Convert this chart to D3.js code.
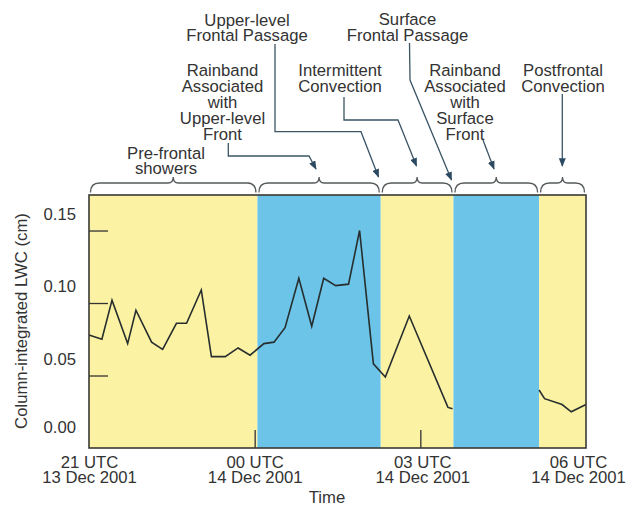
<!DOCTYPE html>
<html>
<head>
<meta charset="utf-8">
<script src="https://cdn.jsdelivr.net/npm/d3@7"></script>
<style>
  body { margin: 0; background: #fff; }
  text { font-family: "Liberation Sans", Arial, sans-serif; fill: #333; }
</style>
</head>
<body>
<script>
// LWC samples (UTC time, cm); null marks the gap with no retrieval
var lwcTimes = ["21:00", "21:14", "21:25", "21:42", "21:51", "22:08", "22:20", "22:35", "22:46", "23:02",
    "23:13", "23:28", "23:42", "23:55", "00:10", "00:21", "00:33", "00:48", "01:02", "01:15",
    "01:28", "01:42", "01:54", "02:09", "02:22", "02:48", "03:30", "03:35",
    "04:20",
    "05:09", "05:15", "05:34", "05:44", "06:00"];
var lwcValues = [0.078, 0.075, 0.102, 0.072, 0.095, 0.073, 0.068, 0.086, 0.086, 0.109,
    0.063, 0.063, 0.069, 0.064, 0.072, 0.073, 0.083, 0.117, 0.084, 0.117,
    0.112, 0.113, 0.150, 0.058, 0.049, 0.091, 0.028, 0.027,
    null,
    0.040, 0.034, 0.030, 0.025, 0.030];

// shaded periods
var bandStarts = ["21:00", "00:03", "02:17", "03:36", "05:09"];
var bandEnds = ["00:03", "02:17", "03:36", "05:09", "06:00"];
var bandKinds = ["showers", "rainband", "showers", "rainband", "showers"];

var xTicks = ["21:00", "00:00", "03:00", "06:00"];
var xTickLines1 = ["21 UTC", "00 UTC", "03 UTC", "06 UTC"];
var xTickLines2 = ["13 Dec 2001", "14 Dec 2001", "14 Dec 2001", "14 Dec 2001"];
var yTicks = [0, 0.05, 0.10, 0.15];

var annLines = [
    ["Pre-frontal", "showers"],
    ["Rainband", "Associated", "with", "Upper-level", "Front"],
    ["Upper-level", "Frontal Passage"],
    ["Intermittent", "Convection"],
    ["Surface", "Frontal Passage"],
    ["Rainband", "Associated", "with", "Surface", "Front"],
    ["Postfrontal", "Convection"]
];

function hhmm(s) {
    var p = s.split(":").map(Number);
    return new Date(Date.UTC(2001, 11, p[0] >= 21 ? 13 : 14, p[0], p[1]));
}

var w = 632, h = 508;
var pLeft = 89, pRight = 586, pTop = 195, pBottom = 448;
var fontSize = "16.7px";

var x = d3.scaleUtc()
    .domain([hhmm("21:00"), hhmm("06:00")])
    .range([pLeft, pRight]);

var y = d3.scaleLinear()
    .domain([0, 0.1745])
    .range([pBottom, pTop]);

var color = { showers: "#fcf2a4", rainband: "#6cc4e8" };

var svg = d3.select("body")
    .append("svg")
    .attr("width", w)
    .attr("height", h);

// bands
svg.selectAll("rect.band")
    .data(bandStarts)
    .enter()
    .append("rect")
    .attr("class", "band")
    .attr("x", d => x(hhmm(d)))
    .attr("y", pTop)
    .attr("width", (d, i) => x(hhmm(bandEnds[i])) - x(hhmm(d)))
    .attr("height", pBottom - pTop)
    .attr("fill", (d, i) => color[bandKinds[i]]);

// inner y ticks
svg.append("g")
    .attr("transform", "translate(" + pLeft + ",0)")
    .call(d3.axisLeft(y).tickValues(yTicks.slice(1)).tickSize(-19).tickFormat(""))
    .call(g => g.select(".domain").remove())
    .call(g => g.selectAll("line").attr("stroke", "#333").attr("stroke-width", 1.3));

// y labels (sit a little above their ticks in the original)
svg.append("g")
    .attr("transform", "translate(" + pLeft + ",0)")
    .call(d3.axisLeft(y).tickValues(yTicks).tickSize(0).tickPadding(13).tickFormat(d3.format(".2f")))
    .call(g => g.select(".domain").remove())
    .call(g => g.selectAll("text")
        .attr("font-size", fontSize)
        .attr("font-family", null)
        .attr("fill", "#333")
        .attr("dy", "0.35em")
        .attr("y", (d, i) => i === 0 ? -21 : -17));

// inner x ticks
svg.append("g")
    .attr("transform", "translate(0," + pBottom + ")")
    .call(d3.axisBottom(x).tickValues(xTicks.slice(1, 3).map(hhmm)).tickSize(-18).tickFormat(""))
    .call(g => g.select(".domain").remove())
    .call(g => g.selectAll("line").attr("stroke", "#333").attr("stroke-width", 1.3));

// x labels
var xl = svg.append("g")
    .attr("transform", "translate(0," + pBottom + ")")
    .call(d3.axisBottom(x).tickValues(xTicks.map(hhmm)).tickSize(0).tickFormat(""));
xl.select(".domain").remove();
xl.selectAll(".tick text")
    .attr("font-size", fontSize)
    .attr("font-family", null)
    .attr("fill", "#333")
    .attr("y", 0)
    .attr("dy", null)
    .each(function (d, i) {
        var t = d3.select(this);
        var dx = i === xTicks.length - 1 ? -8 : (i === 2 ? 2 : 0);
        t.append("tspan").attr("x", dx).attr("y", 19.5).text(xTickLines1[i]);
        t.append("tspan").attr("x", dx).attr("y", 35.2).text(xTickLines2[i]);
    });

// LWC line
var line = d3.line()
    .defined(d => d.v != null)
    .x(d => x(d.t))
    .y(d => y(d.v));

svg.append("path")
    .datum(lwcTimes.map((t, i) => ({ t: hhmm(t), v: lwcValues[i] })))
    .attr("d", line)
    .attr("fill", "none")
    .attr("stroke", "#262e2e")
    .attr("stroke-width", 1.6)
    .attr("stroke-linejoin", "miter");

// frame
svg.append("rect")
    .attr("x", pLeft)
    .attr("y", pTop)
    .attr("width", pRight - pLeft)
    .attr("height", pBottom - pTop)
    .attr("fill", "none")
    .attr("stroke", "#3a3a32")
    .attr("stroke-width", 1.6);

// braces over each period
function brace(x0, x1) {
    var yEnd = 192.5, yMid = 183, yTip = 177, r = 9, tr = 5;
    var xm = (x0 + x1) / 2;
    return "M" + x0 + "," + yEnd +
        "Q" + x0 + "," + yMid + " " + (x0 + r) + "," + yMid +
        "L" + (xm - tr) + "," + yMid +
        "Q" + xm + "," + yMid + " " + xm + "," + yTip +
        "Q" + xm + "," + yMid + " " + (xm + tr) + "," + yMid +
        "L" + (x1 - r) + "," + yMid +
        "Q" + x1 + "," + yMid + " " + x1 + "," + yEnd;
}

svg.selectAll("path.brace")
    .data(bandStarts)
    .enter()
    .append("path")
    .attr("class", "brace")
    .attr("d", (d, i) => brace(x(hhmm(d)) + 1.5, x(hhmm(bandEnds[i])) - 1.5))
    .attr("fill", "none")
    .attr("stroke", "#555b5c")
    .attr("stroke-width", 1.3);

// annotation text
var annX = [166, 222.5, 247, 340, 407.5, 465, 563];
var annY = [152.7, 70, 20, 70, 19.5, 70, 70];
var annLead = [15.6, 16, 15.6, 16, 15.6, 16, 16];

annLines.forEach(function (lines, k) {
    var t = svg.append("text")
        .attr("text-anchor", "middle")
        .attr("font-size", fontSize);
    lines.forEach(function (s, j) {
        t.append("tspan")
            .attr("x", annX[k])
            .attr("y", annY[k] + j * annLead[k])
            .attr("dy", "0.35em")
            .text(s);
    });
});

// leader arrows
svg.append("defs").append("marker")
    .attr("id", "arrow")
    .attr("viewBox", "0 0 10 8")
    .attr("refX", 9)
    .attr("refY", 4)
    .attr("markerWidth", 9)
    .attr("markerHeight", 7)
    .attr("markerUnits", "userSpaceOnUse")
    .attr("orient", "auto")
    .append("path")
    .attr("d", "M0,0L10,4L0,8z")
    .attr("fill", "#2b4a62");

var leaders = [
    [[228.3, 143], [228.3, 156], [309, 156], [316, 169]],
    [[275, 44], [275, 131.7], [361, 131.7], [378.5, 177]],
    [[344, 97], [344, 120], [398, 120], [416.5, 166]],
    [[409.5, 43], [410, 80], [451.5, 180]],
    [[483, 140], [494, 169]],
    [[562.3, 94], [562.3, 166]]
];

svg.selectAll("path.leader")
    .data(leaders)
    .enter()
    .append("path")
    .attr("class", "leader")
    .attr("d", d3.line())
    .attr("fill", "none")
    .attr("stroke", "#3b5566")
    .attr("stroke-width", 1.3)
    .attr("marker-end", "url(#arrow)");

// axis titles
svg.append("text")
    .attr("transform", "translate(21,321) rotate(-90)")
    .attr("text-anchor", "middle")
    .attr("dy", "0.35em")
    .attr("font-size", fontSize)
    .text("Column-integrated LWC (cm)");

svg.append("text")
    .attr("x", 327)
    .attr("y", 497)
    .attr("text-anchor", "middle")
    .attr("dy", "0.35em")
    .attr("font-size", fontSize)
    .text("Time");
</script>
</body>
</html>
